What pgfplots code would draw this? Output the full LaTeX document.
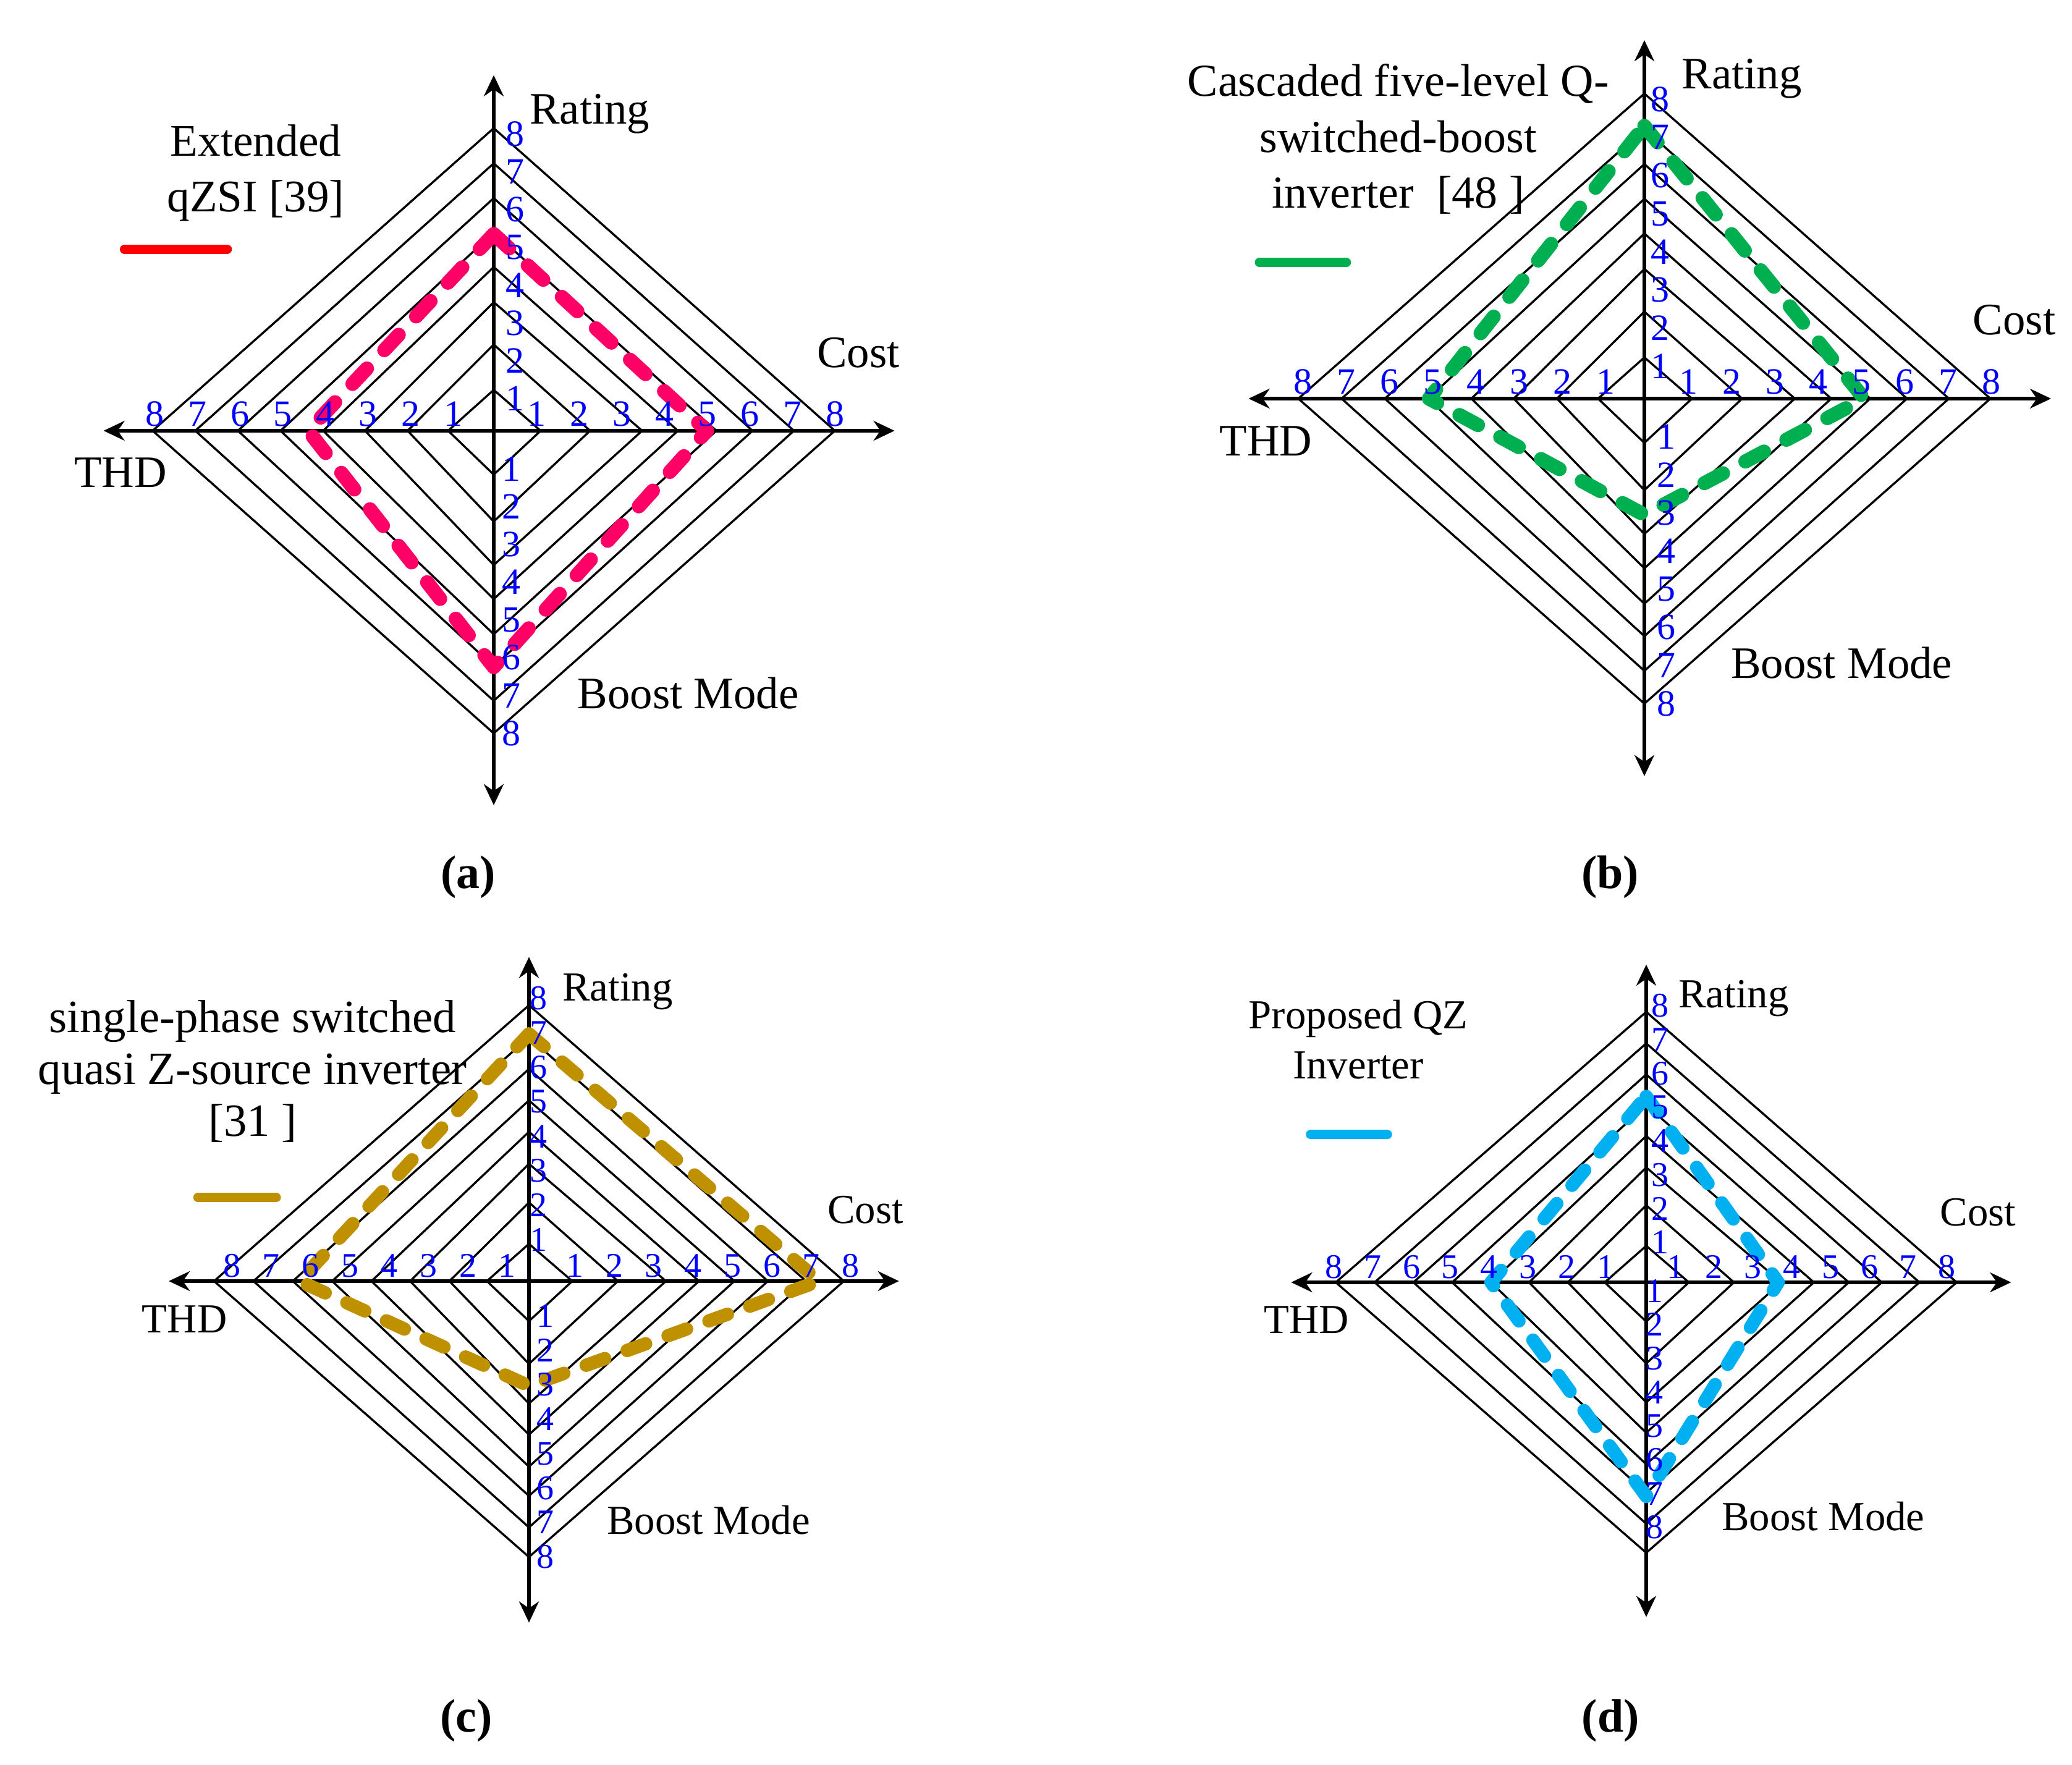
\documentclass[border=0pt]{standalone}
\usepackage{pgfplots}
\pgfplotsset{compat=1.18}
\usepackage{fontspec}
\setmainfont{Liberation Serif}
\usetikzlibrary{arrows.meta}

\definecolor{cA}{HTML}{FF0066}
\definecolor{cAleg}{HTML}{FF0000}
\definecolor{cB}{HTML}{00B050}
\definecolor{cC}{HTML}{BF9000}
\definecolor{cD}{HTML}{00B0F0}
\definecolor{tickblue}{HTML}{0000FF}

\pgfplotsset{radar/.style={axis lines=none, clip=false, xmin=-10, xmax=10, ymin=-14, ymax=10, anchor=south west}}

% rings: radii towards Cost (R), Rating (U), THD (L), Boost Mode (D)
\newcommand\rings{%
\addplot[black, line width=0.85pt, line join=miter] coordinates {(1.10,0) (0,1.08) (-1.07,0) (0,-1.16) (1.10,0) (0,1.08)};
\addplot[black, line width=0.85pt, line join=miter] coordinates {(2.26,0) (0,2.28) (-2.02,0) (0,-2.40) (2.26,0) (0,2.28)};
\addplot[black, line width=0.85pt, line join=miter] coordinates {(3.48,0) (0,3.40) (-3.02,0) (0,-3.55) (3.48,0) (0,3.40)};
\addplot[black, line width=0.85pt, line join=miter] coordinates {(4.32,0) (0,4.33) (-4.00,0) (0,-4.45) (4.32,0) (0,4.33)};
\addplot[black, line width=0.85pt, line join=miter] coordinates {(5.22,0) (0,5.24) (-5.00,0) (0,-5.38) (5.22,0) (0,5.24)};
\addplot[black, line width=0.85pt, line join=miter] coordinates {(6.07,0) (0,6.15) (-6.00,0) (0,-6.23) (6.07,0) (0,6.15)};
\addplot[black, line width=0.85pt, line join=miter] coordinates {(7.04,0) (0,7.07) (-7.00,0) (0,-7.14) (7.04,0) (0,7.07)};
\addplot[black, line width=0.85pt, line join=miter] coordinates {(8.00,0) (0,8.00) (-8.00,0) (0,-8.00) (8.00,0) (0,8.00)};
}
\newcommand\axesarrows{%
\draw[line width=1.3pt, {Stealth[length=8.5pt,width=8pt]}-{Stealth[length=8.5pt,width=8pt]}] (axis cs:-9.15,0) -- (axis cs:9.4,0);
\draw[line width=1.3pt, {Stealth[length=8.5pt,width=8pt]}-{Stealth[length=8.5pt,width=8pt]}] (axis cs:0,-9.9) -- (axis cs:0,9.4);
}
\newcommand\ticklabels{%
\pgfplotsinvokeforeach{1,...,8}{%
\node[tickblue, anchor=base, inner sep=0pt, font=\tfont] at (axis cs:{##1+\hroff},0.12) {##1};
\node[tickblue, anchor=base, inner sep=0pt, font=\tfont] at (axis cs:{-##1+\hloff},0.12) {##1};
\node[tickblue, anchor=center, inner sep=0pt, font=\tfont] at (axis cs:\tx,{##1+\toff}) {##1};
\node[tickblue, anchor=center, inner sep=0pt, font=\tfont] at (axis cs:\bx,{-##1-\boff}) {##1};
}}
\newcommand\axlabels{%
\node[anchor=base, inner sep=0pt, font=\lfont] at (axis cs:2.25,8.12) {Rating};
\node[anchor=base, inner sep=0pt, font=\lfont] at (axis cs:8.55,1.67) {Cost};
\node[anchor=base, inner sep=0pt, font=\lfont] at (axis cs:-8.75,-1.5) {THD};
\node[anchor=base, inner sep=0pt, font=\lfont] at (axis cs:4.56,-7.34) {Boost Mode};
}

\begin{document}
\begin{tikzpicture}

% ---------------- (a) ----------------
\def\tfont{\fontsize{15}{17}\selectfont}
\def\lfont{\fontsize{18.2}{21}\selectfont}
\def\hroff{0}\def\hloff{0.05}\def\tx{0.5}\def\toff{-0.15}\def\bx{0.42}\def\boff{0}
\begin{axis}[radar, x=17.25pt, y=15.3pt, at={(27.25pt,-388.45pt)}]
\rings
\axesarrows
\addplot[cA, line width=5.75pt, dash pattern=on 8.5pt off 10.25pt, line cap=round, line join=round]
  coordinates {(0,5.2) (5.0,0) (0,-6.25) (-4.35,0) (0,5.2)};
\ticklabels
\axlabels
\addplot[cAleg, line width=3.75pt, line cap=round] coordinates {(-8.66,4.8) (-6.25,4.8)};
\node[anchor=base, inner sep=0pt, font=\fontsize{18.3}{21}\selectfont] at (axis cs:-5.58,7.26) {Extended};
\node[anchor=base, inner sep=0pt, font=\fontsize{18.3}{21}\selectfont] at (axis cs:-5.58,5.80) {qZSI [39]};
\node[anchor=base, inner sep=0pt, font=\bfseries\fontsize{19}{22}\selectfont] at (axis cs:-0.6,-12.1) {(a)};
\end{axis}

% ---------------- (b) ----------------
\def\hroff{0.02}\def\hloff{0.1}\def\tx{0.36}\def\toff{-0.15}\def\bx{0.5}\def\boff{0}
\begin{axis}[radar, x=17.5pt, y=15.425pt, at={(490.25pt,-377.2pt)}]
\rings
\axesarrows
\addplot[cB, line width=5.75pt, dash pattern=on 8.5pt off 10.25pt, line cap=round, line join=round]
  coordinates {(0,7.15) (5.08,0) (0,-3.05) (-4.98,0) (0,7.15)};
\ticklabels
\axlabels
\addplot[cB, line width=3.75pt, line cap=round] coordinates {(-8.9,3.57) (-6.89,3.57)};
\node[anchor=base, inner sep=0pt, font=\fontsize{18.5}{21}\selectfont] at (axis cs:-5.69,7.93) {Cascaded five-level Q-};
\node[anchor=base, inner sep=0pt, font=\fontsize{18.5}{21}\selectfont] at (axis cs:-5.69,6.46) {switched-boost};
\node[anchor=base, inner sep=0pt, font=\fontsize{18.5}{21}\selectfont] at (axis cs:-5.69,5.0) {inverter\ \ [48 ]};
\node[anchor=base, inner sep=0pt, font=\bfseries\fontsize{19}{22}\selectfont] at (axis cs:-0.79,-12.84) {(b)};
\end{axis}

% ---------------- (c) ----------------
\def\tfont{\fontsize{14}{16}\selectfont}
\def\lfont{\fontsize{16.7}{19}\selectfont}
\def\hroff{0.17}\def\hloff{0.45}\def\tx{0.25}\def\toff{0.2}\def\bx{0.42}\def\boff{0}
\begin{axis}[radar, x=15.925pt, y=13.95pt, at={(54.75pt,-713.55pt)}]
\rings
\axesarrows
\addplot[cC, line width=5.4pt, dash pattern=on 8pt off 9.6pt, line cap=round, line join=round]
  coordinates {(0,7.17) (7.37,0) (0,-3.04) (-5.83,0) (0,7.17)};
\ticklabels
\axlabels
\addplot[cC, line width=3.75pt, line cap=round] coordinates {(-8.41,2.42) (-6.42,2.42)};
\node[anchor=base, inner sep=0pt, font=\fontsize{18.7}{21}\selectfont] at (axis cs:-7.02,7.22) {single-phase switched};
\node[anchor=base, inner sep=0pt, font=\fontsize{18.7}{21}\selectfont] at (axis cs:-7.02,5.71) {quasi Z-source inverter};
\node[anchor=base, inner sep=0pt, font=\fontsize{18.7}{21}\selectfont] at (axis cs:-7.02,4.2) {[31 ]};
\node[anchor=base, inner sep=0pt, font=\bfseries\fontsize{19}{22}\selectfont] at (axis cs:-1.59,-13.07) {(c)};
\end{axis}

% ---------------- (d) ----------------
\def\hroff{-0.25}\def\hloff{-0.05}\def\tx{0.35}\def\toff{0.18}\def\bx{0.22}\def\boff{-0.75}
\begin{axis}[radar, x=15.7pt, y=13.675pt, at={(509pt,-710.2pt)}]
\rings
\axesarrows
\addplot[cD, line width=5.4pt, dash pattern=on 8pt off 9.6pt, line cap=round, line join=round]
  coordinates {(0,5.5) (3.4,0) (0,-6.33) (-4.0,0) (0,5.5)};
\ticklabels
\axlabels
\addplot[cD, line width=3.75pt, line cap=round] coordinates {(-8.65,4.37) (-6.67,4.37)};
\node[anchor=base, inner sep=0pt, font=\fontsize{16.7}{19}\selectfont] at (axis cs:-7.42,7.5) {Proposed QZ};
\node[anchor=base, inner sep=0pt, font=\fontsize{16.7}{19}\selectfont] at (axis cs:-7.42,6.03) {Inverter};
\node[anchor=base, inner sep=0pt, font=\bfseries\fontsize{19}{22}\selectfont] at (axis cs:-0.92,-13.3) {(d)};
\end{axis}

\pgfresetboundingbox
\path[use as bounding box] (0pt,0pt) rectangle (838.25pt,-714pt);
\end{tikzpicture}
\end{document}
